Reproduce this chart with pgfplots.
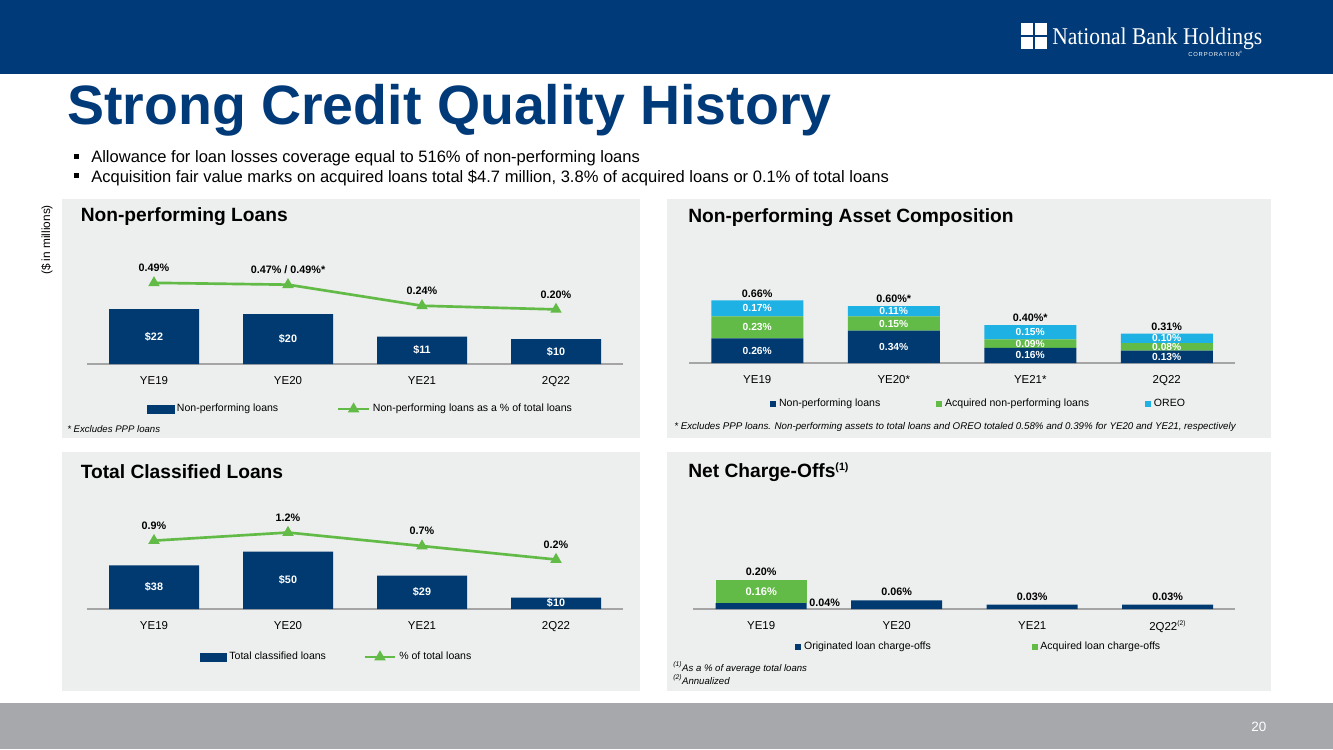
\documentclass[border=0pt]{standalone}
\usepackage{fontspec}
\setmainfont{Liberation Sans}
\newfontfamily\logofont{Liberation Serif}
\usepackage{graphicx}
\usepackage{pgfplots}
\pgfplotsset{compat=1.18}

\definecolor{nbblue}{RGB}{0,58,120}
\definecolor{barblue}{RGB}{0,58,112}
\definecolor{nbgreen}{RGB}{98,187,70}
\definecolor{nbcyan}{RGB}{30,178,228}
\definecolor{panelbg}{RGB}{237,238,238}
\definecolor{footgray}{RGB}{166,168,171}
\definecolor{basegray}{RGB}{165,165,165}

\newcommand{\fs}[1]{\fontsize{#1}{#1}\selectfont}

\pgfplotsset{
  /pgf/number format/assume math mode=true,
  nb base/.style={
    scale only axis, anchor=south west, clip=false,
    xmin=-0.5, xmax=3.5, ymin=0,
  },
  nb bars/.style={
    nb base,
    axis x line*=bottom, axis y line=none,
    x axis line style={draw=basegray, line width=0.9pt, -},
    xtick={0,1,2,3}, major tick length=0pt, xtick style={draw=none},
    xticklabel style={font=\fs{8.6}, yshift=-5.5pt},
  },
  nb overlay/.style={nb base, hide axis},
  nb legend/.style={
    legend columns=-1,
    legend cell align=left,
    legend style={draw=none, fill=none, font=\fs{7.9},
      /tikz/every even column/.append style={column sep=#1}},
  },
  % label in the middle of a plain (unstacked) bar
  in bar/.style={
    visualization depends on=rawy \as \rawy,
    nodes near coords,
    every node near coord/.append style={font=\fs{8.1}\bfseries, text=white, anchor=center,
      shift={(axis direction cs:0,-\rawy/2)}},
  },
  % stacked segments already carry their labels at the segment centre
  in stack/.style={
    nodes near coords,
    every node near coord/.append style={font=\fs{#1}\bfseries, text=white, anchor=center},
  },
  in stack/.default=7.7,
  above label/.style={
    nodes near coords,
    every node near coord/.append style={font=\fs{8.1}\bfseries, text=black, anchor=base, yshift=#1},
  },
  above label/.default=2.5pt,
  above stack label/.style={
    visualization depends on=rawy \as \rawy,
    nodes near coords,
    every node near coord/.append style={font=\fs{8.1}\bfseries, text=black, anchor=base,
      shift={(axis direction cs:0,\rawy/2)}, yshift=#1},
  },
  bar key/.style={legend image code/.code={\fill[#1] (0pt,-2.9pt) rectangle (20pt,2.9pt);}},
  square key/.style={legend image code/.code={\fill[#1] (0pt,-2.3pt) rectangle (4.6pt,2.3pt);}},
  line key/.style={legend image code/.code={%
      \draw[mark repeat=2,mark phase=2,##1] plot coordinates {(0pt,0pt) (11.5pt,0pt) (23pt,0pt)};}},
  pct line/.style={nbgreen, line width=2pt, mark=triangle*, mark size=3pt,
      mark options={solid}, line key, point meta=explicit symbolic},
}

\begin{document}
\begin{tikzpicture}
% ---------- slide frame, header and panel backgrounds (units: px) ----------
\begin{scope}[x=0.75pt, y=-0.75pt]
  \fill[white] (0,0) rectangle (1333,749);
  \fill[nbblue] (0,0) rectangle (1333,74);
  % logo
  \fill[white] (1021,23) rectangle (1033.2,35.2);
  \fill[white] (1034.8,23) rectangle (1047,35.2);
  \fill[white] (1021,36.8) rectangle (1033.2,49);
  \fill[white] (1034.8,36.8) rectangle (1047,49);
  \node[anchor=base west, inner sep=0, text=white] at (1052,45)
    {\scalebox{0.9}[1]{\logofont\fs{18}National Bank Holdings}};
  \node[anchor=base west, inner sep=0, text=white] at (1188,56.5)
    {\fs{4.4}\addfontfeature{LetterSpace=14}CORPORATION\textsuperscript{\fs{2.5}®}};
  % title
  \node[anchor=base west, inner sep=0, text=nbblue] at (67,124)
    {\fs{41.6}\bfseries Strong Credit Quality History};
  % bullets
  \fill[black] (74,154) rectangle (79,159);
  \fill[black] (74,173) rectangle (79,178);
  \node[anchor=base west, inner sep=0] at (91,162)
    {\fs{12.4}Allowance for loan losses coverage equal to 516\% of non-performing loans};
  \node[anchor=base west, inner sep=0] at (91,182)
    {\fs{12.4}Acquisition fair value marks on acquired loans total \$4.7 million, 3.8\% of acquired loans or 0.1\% of total loans};
  \node[rotate=90, inner sep=0] at (47,240) {\fs{8.9}(\$ in millions)};
  % panels
  \fill[panelbg] (62,199) rectangle (640,438);
  \fill[panelbg] (667,199) rectangle (1271,438);
  \fill[panelbg] (62,452) rectangle (640,691);
  \fill[panelbg] (667,452) rectangle (1271,691);
  \node[anchor=base west, inner sep=0] at (80.5,221) {\fs{14.4}\bfseries Non-performing Loans};
  \node[anchor=base west, inner sep=0] at (688,222) {\fs{14.4}\bfseries Non-performing Asset Composition};
  \node[anchor=base west, inner sep=0] at (80.5,478) {\fs{14.4}\bfseries Total Classified Loans};
  \node[anchor=base west, inner sep=0] at (688,477) {\fs{14.4}\bfseries Net Charge-Offs\textsuperscript{\fs{8}(1)}};
  % footnotes
  \node[anchor=base west, inner sep=0] at (67,432) {\fs{7.2}\itshape * Excludes PPP loans};
  \node[anchor=base west, inner sep=0] at (674,429)
    {\fs{7.3}\itshape * Excludes PPP loans. Non-performing assets to total loans and OREO totaled 0.58\% and 0.39\% for YE20 and YE21, respectively};
  \node[anchor=base west, inner sep=0] at (673,671)
    {\fs{7.2}\itshape \textsuperscript{(1)}As a \% of average total loans};
  \node[anchor=base west, inner sep=0] at (673,684)
    {\fs{7.2}\itshape \textsuperscript{(2)}Annualized};
  % footer
  \fill[footgray] (0,703) rectangle (1333,749);
  \node[anchor=base west, inner sep=0, text=white] at (1251,731) {\fs{10.1}20};
\end{scope}

% ---------- Non-performing Loans ----------
\begin{axis}[nb bars, at={(65.25pt,-273pt)}, width=402pt, height=90pt, ymax=48,
  xticklabels={YE19,YE20,YE21,2Q22}]
  \addplot[ybar, bar width=67.5pt, fill=barblue, draw=none, in bar,
    nodes near coords={\$\pgfmathprintnumber{\pgfplotspointmeta}}]
    coordinates {(0,22) (1,20) (2,11) (3,10)};
\end{axis}
\begin{axis}[nb overlay, at={(65.25pt,-273pt)}, width=402pt, height=90pt,
  ymin=-0.396, ymax=0.914,
  nb legend=42pt, legend style={at={(0.511,-0.375)}, anchor=center}]
  \addlegendimage{bar key=barblue}
  \addlegendentry{Non-performing loans}
  \addplot[pct line, above label=8.2pt]
    coordinates {(0,0.49) [0.49\%] (1,0.47) [0.47\% / 0.49\%*] (2,0.24) [0.24\%] (3,0.20) [0.20\%]};
  \addlegendentry{Non-performing loans as a \% of total loans}
\end{axis}

% ---------- Non-performing Asset Composition ----------
\begin{axis}[nb bars, ybar stacked, bar width=69pt,
  at={(516.75pt,-272.25pt)}, width=409.5pt, height=90pt, ymax=1.2632,
  xticklabels={YE19,YE20*,YE21*,2Q22},
  nb legend=40pt, legend style={at={(0.531,-0.342)}, anchor=center}]
  \addplot[fill=barblue, draw=none, square key=barblue, point meta=explicit symbolic, in stack]
    coordinates {(0,0.26) [0.26\%] (1,0.34) [0.34\%] (2,0.16) [0.16\%] (3,0.13) [0.13\%]};
  \addlegendentry{Non-performing loans}
  \addplot[fill=nbgreen, draw=none, square key=nbgreen, point meta=explicit symbolic, in stack]
    coordinates {(0,0.23) [0.23\%] (1,0.15) [0.15\%] (2,0.09) [0.09\%] (3,0.08) [0.08\%]};
  \addlegendentry{Acquired non-performing loans}
  \addplot[fill=nbcyan, draw=none, square key=nbcyan, point meta=explicit symbolic, in stack]
    coordinates {(0,0.17) [0.17\%] (1,0.11) [0.11\%] (2,0.15) [0.15\%] (3,0.10) [0.10\%]};
  \addlegendentry{OREO}
\end{axis}
\begin{axis}[nb overlay, at={(516.75pt,-272.25pt)}, width=409.5pt, height=90pt, ymax=1.2632]
  \addplot[draw=none, point meta=explicit symbolic, above label=2.3pt]
    coordinates {(0,0.66) [0.66\%] (1,0.60) [0.60\%*] (2,0.40) [0.40\%*] (3,0.31) [0.31\%]};
\end{axis}

% ---------- Total Classified Loans ----------
\begin{axis}[nb bars, at={(65.25pt,-456.75pt)}, width=402pt, height=82.5pt, ymax=95.65,
  xticklabels={YE19,YE20,YE21,2Q22}]
  \addplot[ybar, bar width=67.5pt, fill=barblue, draw=none, in bar,
    nodes near coords={\$\pgfmathprintnumber{\pgfplotspointmeta}}]
    coordinates {(0,38) (1,50) (2,29) (3,10)};
\end{axis}
\begin{axis}[nb overlay, at={(65.25pt,-456.75pt)}, width=402pt, height=82.5pt,
  ymin=-1.633, ymax=2.441,
  nb legend=26pt, legend style={at={(0.466,-0.436)}, anchor=center}]
  \addlegendimage{bar key=barblue}
  \addlegendentry{Total classified loans}
  \addplot[pct line, above label=8.6pt]
    coordinates {(0,0.9) [0.9\%] (1,1.2) [1.2\%] (2,0.7) [0.7\%] (3,0.2) [0.2\%]};
  \addlegendentry{\% of total loans}
\end{axis}

% ---------- Net Charge-Offs ----------
\begin{axis}[nb bars, ybar stacked, bar width=68.25pt,
  at={(520.1pt,-456.75pt)}, width=406.5pt, height=82.5pt, ymax=0.7586,
  xticklabels={YE19,YE20,YE21,2Q22\textsuperscript{\fs{5}(2)}},
  nb legend=73.5pt, legend style={at={(0.527,-0.345)}, anchor=center}]
  \addplot[fill=barblue, draw=none, square key=barblue, point meta=explicit symbolic, above stack label=3.3pt]
    coordinates {(0,0.04) [] (1,0.06) [0.06\%] (2,0.03) [0.03\%] (3,0.03) [0.03\%]};
  \addlegendentry{Originated loan charge-offs}
  \addplot[fill=nbgreen, draw=none, square key=nbgreen, point meta=explicit symbolic, in stack=8.3]
    coordinates {(0,0.16) [0.16\%] (1,0) [] (2,0) [] (3,0) []};
  \addlegendentry{Acquired loan charge-offs}
\end{axis}
\begin{axis}[nb overlay, at={(520.1pt,-456.75pt)}, width=406.5pt, height=82.5pt, ymax=0.7586]
  \addplot[draw=none, point meta=explicit symbolic, above label=3.5pt]
    coordinates {(0,0.20) [0.20\%]};
  \addplot[draw=none, point meta=explicit symbolic, nodes near coords,
    every node near coord/.append style={font=\fs{8.1}\bfseries, text=black,
      anchor=base west, xshift=32.5pt, yshift=-2.6pt}]
    coordinates {(0,0.04) [0.04\%]};
\end{axis}

\pgfresetboundingbox
\path[use as bounding box] (0,0) rectangle (999.75pt,-561.75pt);
\end{tikzpicture}
\end{document}
